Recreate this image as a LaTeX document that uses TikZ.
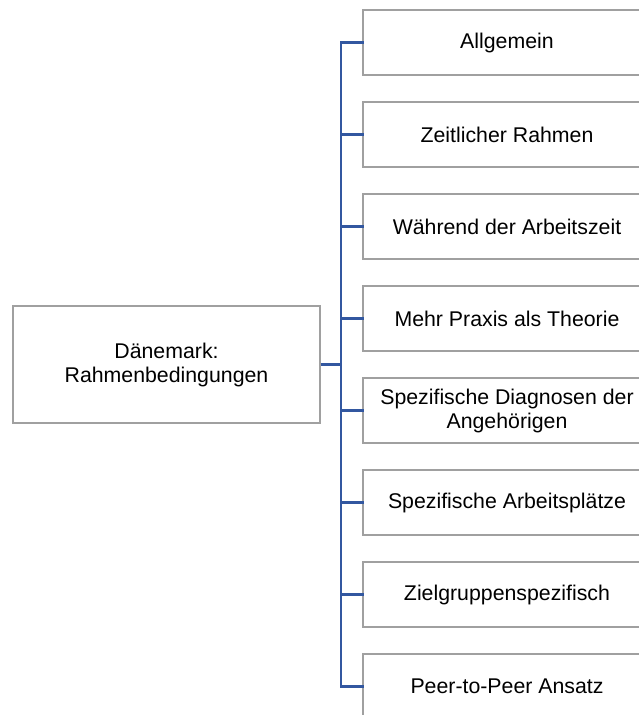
\documentclass[tikz,border=0pt]{standalone}
\usepackage{fontspec}
\setmainfont{Liberation Sans}
\begin{document}
\begin{tikzpicture}[x=1pt,y=-1pt,
  box/.style={draw=boxgray, line width=1.4pt, fill=white, rectangle, inner sep=0pt,
    align=center, font=\fontsize{21.3}{24}\selectfont},
  rootbox/.style={box, minimum width=307pt, minimum height=117pt},
  leafbox/.style={box, minimum width=288pt, minimum height=65pt},
  link/.style={draw=linkblue, line width=2.6pt}]
\definecolor{boxgray}{HTML}{A0A0A0}
\definecolor{linkblue}{HTML}{3257A0}
\useasboundingbox (0,0) rectangle (639,715);
\clip (0,0) rectangle (639,715);

\node[rootbox] (root) at (166.5,364.5) {Dänemark:\\Rahmenbedingungen};

\node[leafbox] (c1) at (507,42.5)  {Allgemein};
\node[leafbox] (c2) at (507,134.5) {Zeitlicher Rahmen};
\node[leafbox] (c3) at (507,226.5) {Während der Arbeitszeit};
\node[leafbox] (c4) at (507,318.5) {Mehr Praxis als Theorie};
\node[leafbox] (c5) at (507,410.5) {Spezifische Diagnosen der\\Angehörigen};
\node[leafbox] (c6) at (507,502.5) {Spezifische Arbeitsplätze};
\node[leafbox] (c7) at (507,594.5) {Zielgruppenspezifisch};
\node[leafbox] (c8) at (507,686.5) {Peer-to-Peer Ansatz};

\coordinate (trunk) at (341,364.5);
\draw[link] (root.east) -- (trunk);
\foreach \c in {c1,c2,c3,c4,c5,c6,c7,c8}
  \draw[link, line cap=rect] (trunk) |- (\c.west);
\end{tikzpicture}
\end{document}
